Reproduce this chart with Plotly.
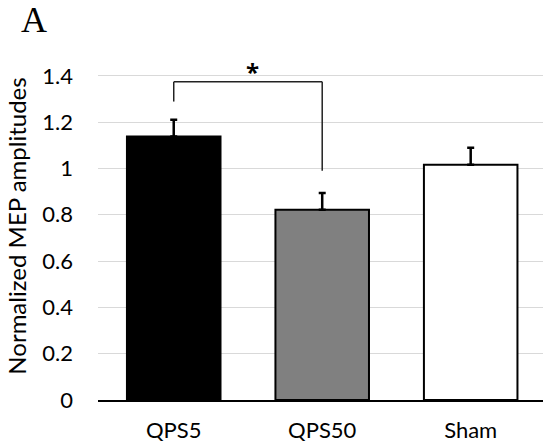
import plotly.graph_objects as go

# Group labels, mean normalized MEP amplitudes and their SEM
groups = ["QPS5", "QPS50", "Sham"]
means = [1.138, 0.822, 1.016]
sems = [0.072, 0.072, 0.073]
bar_colors = ["#000000", "#808080", "#ffffff"]
y_ticks = [0, 0.2, 0.4, 0.6, 0.8, 1.0, 1.2, 1.4]
y_tick_text = ["0", "0.2", "0.4", "0.6", "0.8", "1", "1.2", "1.4"]

xpos = list(range(len(groups)))
font_family = "Lato, Open Sans, sans-serif"

fig = go.Figure()
fig.add_trace(go.Bar(
    x=xpos,
    y=means,
    width=0.63,
    marker=dict(color=bar_colors, line=dict(color="#000000", width=2)),
    error_y=dict(type="data", symmetric=False, array=sems,
                 arrayminus=[0] * len(sems),
                 color="#000000", thickness=2.5, width=3.5),
    showlegend=False,
    hoverinfo="skip",
))

# Significance bracket between QPS5 and QPS50
bracket_y = 1.374
left_top = means[0] + sems[0]
right_top = means[1] + sems[1]
line_style = dict(color="#222222", width=1.5)
fig.add_shape(type="line", xref="x", yref="y", x0=0, x1=0,
              y0=left_top + 0.079, y1=bracket_y, line=line_style)
fig.add_shape(type="line", xref="x", yref="y", x0=0, x1=1,
              y0=bracket_y, y1=bracket_y, line=line_style)
fig.add_shape(type="line", xref="x", yref="y", x0=1, x1=1,
              y0=right_top + 0.096, y1=bracket_y, line=line_style)
fig.add_annotation(x=0.53, y=bracket_y, xref="x", yref="y", text="<b>*</b>",
                   showarrow=False, yanchor="bottom", yshift=-8,
                   font=dict(family="Open Sans, sans-serif", size=24,
                             color="#000000"))

# Panel letter
fig.add_annotation(x=-0.178, y=1.155, xref="paper", yref="paper", text="A",
                   showarrow=False, xanchor="left", yanchor="top",
                   font=dict(family="Liberation Serif, Times New Roman, serif",
                             size=36, color="#000000"))

fig.update_layout(
    width=543, height=447,
    margin=dict(l=98, r=0, t=52, b=47),
    plot_bgcolor="#ffffff", paper_bgcolor="#ffffff",
    font=dict(family=font_family, size=22, color="#000000"),
    bargap=0.37,
    xaxis=dict(
        range=[-0.51, 2.487],
        tickvals=xpos, ticktext=groups,
        showgrid=False, zeroline=False,
        showline=True, linecolor="#000000", linewidth=2,
        ticks="", ticklabelstandoff=10,
        tickfont=dict(size=22, color="#000000"),
    ),
    yaxis=dict(
        range=[0, 1.503],
        tickvals=y_ticks, ticktext=y_tick_text,
        showgrid=True, gridcolor="#d9d9d9", gridwidth=1,
        zeroline=False, showline=False, ticks="",
        ticklabelstandoff=24,
        tickfont=dict(size=22, color="#000000"),
        title=dict(text="Normalized MEP amplitudes", standoff=8,
                   font=dict(size=24, color="#000000")),
    ),
)

fig.write_html("out.html")
